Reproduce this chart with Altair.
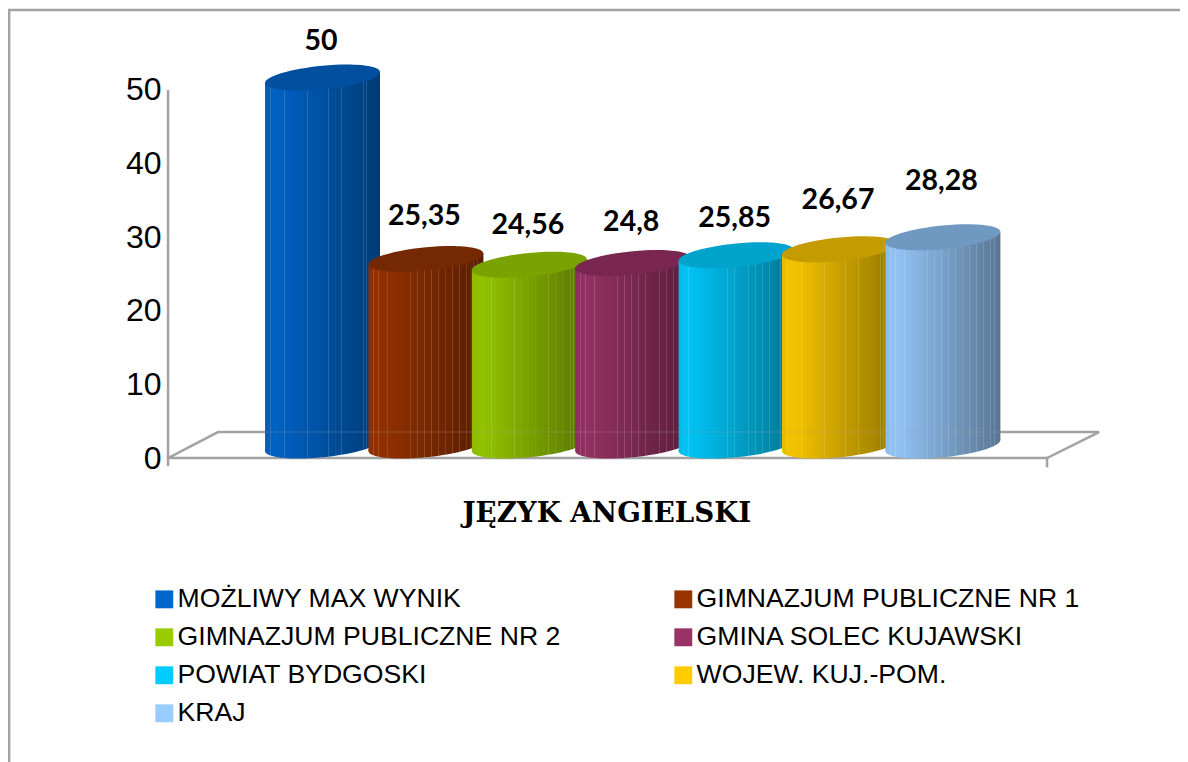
import altair as alt
import pandas as pd

categories = ["MOŻLIWY MAX WYNIK", "GIMNAZJUM PUBLICZNE NR 1", "GIMNAZJUM PUBLICZNE NR 2",
              "GMINA SOLEC KUJAWSKI", "POWIAT BYDGOSKI", "WOJEW. KUJ.-POM.", "KRAJ"]
# the legend fills column by column, the reference reads row by row
legend_order = [0, 2, 4, 6, 1, 3, 5]
values = [50, 25.35, 24.56, 24.8, 25.85, 26.67, 28.28]
value_labels = ["50", "25,35", "24,56", "24,8", "25,85", "26,67", "28,28"]
label_heights = [56.7, 32.9, 31.7, 32.0, 32.6, 35.1, 37.7]
base_colors = ["#0066CC", "#993300", "#99CC00", "#993366", "#00CCFF", "#FFCC00", "#99CCFF"]
top_colors = ["#00509F", "#752902", "#7AA200", "#792751", "#00A3CC", "#C49B00", "#7099C2"]
y_ticks = [0, 10, 20, 30, 40, 50]
chart_title = "JĘZYK ANGIELSKI"

GRAY = "#a3a3a3"
W, H = 1172, 754
XMAX = 8.293
XS = alt.Scale(domain=[-3.042, XMAX], nice=False, zero=False)
YS = alt.Scale(domain=[-41.30, 61.14], nice=False, zero=False)
HALF = 0.556      # cylinder half width, in category slots
BASE = 1.70       # lift of the base centre
TILT = 0.747      # rise of the ellipse's right end
ELLIPSE_SIZE = 115 ** 2
STRIPES = [0.045, 0.087, 0.168, 0.368, 0.426, 0.487, 0.55, 0.609, 0.667, 0.73, 0.791, 0.855, 0.884, 0.913, 0.948]


def ellipse_path(k=0.0957, m=0.205):
    c = 0.5523
    pts = [(-1, 0), (-1, -c), (-c, -1), (0, -1), (c, -1), (1, -c), (1, 0),
           (1, c), (c, 1), (0, 1), (-c, 1), (-1, c), (-1, 0)]
    t = [(x, -k * x + m * y) for x, y in pts]
    s = f"M {t[0][0]:.4f} {t[0][1]:.4f}"
    for i in range(1, 13, 3):
        s += " C " + " ".join(f"{x:.4f} {y:.4f}" for x, y in t[i:i + 3])
    return s + " Z"


def shade(hex_color, f):
    r, g, b = (int(hex_color[i:i + 2], 16) for i in (1, 3, 5))
    if f <= 1:
        r, g, b = r * f, g * f, b * f
    else:
        a = f - 1
        r, g, b = r + (255 - r) * a, g + (255 - g) * a, b + (255 - b) * a
    return f"#{int(r):02x}{int(g):02x}{int(b):02x}"


def factor(p):
    return 1.0 - 0.42 * p if p > 0.1 else 0.92 + 0.4 * p


def gradient(color):
    stops = [alt.GradientStop(color=shade(color, factor(0)), offset=0)]
    for p in STRIPES:
        body = shade(color, factor(p))
        light = shade(body, 1.15)
        stops += [alt.GradientStop(color=body, offset=p - 0.003),
                  alt.GradientStop(color=light, offset=p - 0.002),
                  alt.GradientStop(color=light, offset=p + 0.003),
                  alt.GradientStop(color=body, offset=p + 0.004)]
    stops.append(alt.GradientStop(color=shade(color, factor(1)), offset=1))
    return alt.Gradient(gradient="linear", stops=stops, x1=0, x2=1, y1=0, y2=0)


X = alt.X("x:Q", scale=XS, axis=None)
Y = alt.Y("y:Q", scale=YS, axis=None)


def gray_line(xs, ys, width=2.5, opacity=1.0):
    return alt.Chart(pd.DataFrame({"x": xs, "y": ys, "o": range(len(xs))})).mark_line(
        color=GRAY, strokeWidth=width, opacity=opacity, strokeCap="square"
    ).encode(x=X, y=Y, order="o:Q")


layers = []
# frame of the picture
layers.append(gray_line([-3.032, -3.032, XMAX], [-41.3, 60.87, 60.87], 2.7))
# floor and axis line
layers.append(gray_line([-1.494, -1.011, 7.51, 7.007, -1.494], [0, 3.53, 3.53, 0, 0]))
layers.append(gray_line([7.007, 7.007], [0, -1.09]))
layers.append(alt.Chart(pd.DataFrame({"x": [-1.494, -1.494], "y": [50, -1.09], "o": [0, 1]})).mark_line(
    color=GRAY, strokeWidth=2.5
).encode(
    x=X,
    y=alt.Y("y:Q", scale=YS, axis=alt.Axis(
        values=y_ticks, format="d", title=None, grid=False, domain=False, ticks=False,
        labelFont="Liberation Sans", labelFontSize=32, labelColor="#000000",
        labelPadding=6, offset=-159)),
    order="o:Q"))

# cylinders
path = ellipse_path()
for i, (v, c, tc) in enumerate(zip(values, base_colors, top_colors)):
    g = gradient(c)
    base_df = pd.DataFrame({"x": [i], "y": [BASE]})
    body_df = pd.DataFrame({"x": [i - HALF, i + HALF],
                            "y": [BASE + v - TILT, BASE + v + TILT],
                            "y2": [BASE - TILT, BASE + TILT]})
    top_df = pd.DataFrame({"x": [i], "y": [BASE + v]})
    layers.append(alt.Chart(base_df).mark_point(filled=True, shape=path, size=ELLIPSE_SIZE, color=g,
                                                opacity=1, strokeWidth=0).encode(x=X, y=Y))
    layers.append(alt.Chart(body_df).mark_area(color=g, opacity=1, interpolate="linear").encode(
        x=X, y=Y, y2=alt.Y2("y2:Q")))
    layers.append(alt.Chart(top_df).mark_point(filled=True, shape=path, size=ELLIPSE_SIZE, color=tc,
                                               opacity=1, strokeWidth=0).encode(x=X, y=Y))

# back floor edge faintly seen through the cylinders
layers.append(gray_line([-1.011, 7.51], [3.53, 3.53], 2, 0.15))

# value labels
label_df = pd.DataFrame({"x": list(range(len(values))), "y": label_heights, "t": value_labels})
layers.append(alt.Chart(label_df).mark_text(
    font="Lato", fontWeight="bold", fontSize=28.5, color="#000000", dx=-1.5, baseline="middle"
).encode(x=X, y=Y, text="t:N"))

# title under the plot
layers.append(alt.Chart(pd.DataFrame({"x": [2.75], "y": [-7.6], "t": [chart_title]})).mark_text(
    font="DejaVu Serif", fontWeight="bold", fontSize=27.7, color="#000000", baseline="middle"
).encode(x=X, y=Y, text="t:N"))

# legend carrier
legend_cats = [categories[i] for i in legend_order]
legend_cols = [base_colors[i] for i in legend_order]
legend_df = pd.DataFrame({"x": [0] * 7, "y": [0] * 7, "cat": legend_cats})
layers.append(alt.Chart(legend_df).mark_square(size=0, opacity=1).encode(
    x=X, y=Y,
    color=alt.Color("cat:N", sort=legend_cats,
                    scale=alt.Scale(domain=legend_cats, range=legend_cols),
                    legend=alt.Legend(
                        title=None, orient="none", legendX=143, legendY=578, columns=2,
                        symbolType="square", symbolSize=320, symbolOpacity=1, symbolStrokeWidth=0,
                        labelFont="Liberation Sans", labelFontSize=26.6, labelColor="#000000",
                        labelLimit=600, labelOffset=0, rowPadding=11, columnPadding=109))))

chart = alt.layer(*layers).resolve_axis(y="independent").properties(
    width=W, height=H, padding=0,
    autosize=alt.AutoSizeParams(type="none"),
    background="#ffffff",
).configure_view(stroke=None)

chart.save("out.html", embed_options={"renderer": "svg", "actions": False})
